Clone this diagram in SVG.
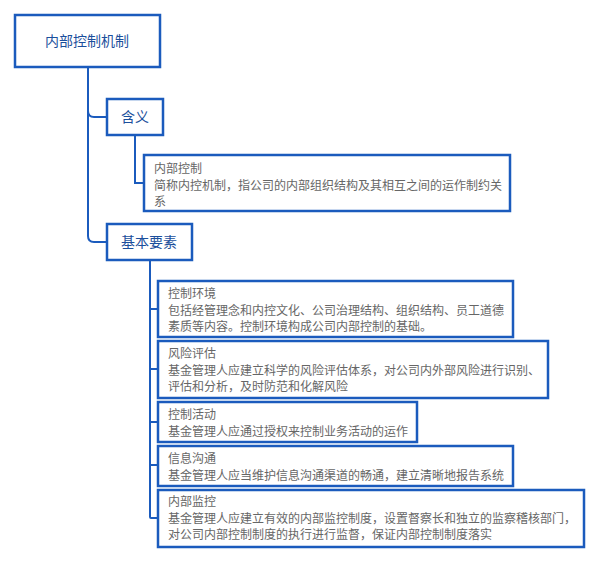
<svg xmlns="http://www.w3.org/2000/svg" width="600" height="562" viewBox="0 0 600 562">
<style>
.b{fill:#fff;stroke:#1b5bbd;stroke-width:2.5}
.c{fill:none;stroke:#1b5bbd;stroke-width:2}
.h{font-family:"Noto Sans CJK SC",sans-serif;fill:#1b4f9c}
.t{font-family:"Noto Sans CJK SC",sans-serif;font-size:12px;fill:#666}
</style>
<rect width="600" height="562" fill="#fff"/>
<g id="connectors">
<path class="c" d="M88 67V111Q88 117 94 117H107M88 111V236Q88 242 94 242H107"/>
<path class="c" d="M135 135V183H144"/>
<path class="c" d="M150 260V517Q150 518 151 518H158M150 309H158M150 369H158M150 422H158M150 465H158"/>
</g>
<g id="root"><rect class="b" x="15" y="15" width="145" height="52"/><text class="h" x="87" y="46" font-size="14" text-anchor="middle">内部控制机制</text></g>
<g id="hanyi"><rect class="b" x="107" y="99" width="56" height="36"/><text class="h" x="135" y="122" font-size="14" text-anchor="middle">含义</text></g>
<g id="def"><rect class="b" x="144" y="155" width="366" height="56"/><text class="t" x="154" y="173">内部控制<tspan x="154" dy="16.5">简称内控机制，指公司的内部组织结构及其相互之间的运作制约关</tspan><tspan x="154" dy="16.5">系</tspan></text></g>
<g id="jiben"><rect class="b" x="107" y="224" width="85" height="36"/><text class="h" x="149" y="247" font-size="14" text-anchor="middle">基本要素</text></g>
<g id="e1"><rect class="b" x="158" y="281" width="355" height="56"/><text class="t" x="168" y="298">控制环境<tspan x="168" dy="16.5">包括经管理念和内控文化、公司治理结构、组织结构、员工道德</tspan><tspan x="168" dy="16.5">素质等内容。控制环境构成公司内部控制的基础。</tspan></text></g>
<g id="e2"><rect class="b" x="158" y="341" width="390" height="57"/><text class="t" x="168" y="358">风险评估<tspan x="168" dy="16.5">基金管理人应建立科学的风险评估体系，对公司内外部风险进行识别、</tspan><tspan x="168" dy="16.5">评估和分析，及时防范和化解风险</tspan></text></g>
<g id="e3"><rect class="b" x="158" y="402" width="259" height="40"/><text class="t" x="168" y="419">控制活动<tspan x="168" dy="16.5">基金管理人应通过授权来控制业务活动的运作</tspan></text></g>
<g id="e4"><rect class="b" x="158" y="446" width="355" height="40"/><text class="t" x="168" y="463">信息沟通<tspan x="168" dy="16.5">基金管理人应当维护信息沟通渠道的畅通，建立清晰地报告系统</tspan></text></g>
<g id="e5"><rect class="b" x="158" y="490" width="426" height="57"/><text class="t" x="168" y="506">内部监控<tspan x="168" dy="16.5">基金管理人应建立有效的内部监控制度，设置督察长和独立的监察稽核部门，</tspan><tspan x="168" dy="16.5">对公司内部控制制度的执行进行监督，保证内部控制制度落实</tspan></text></g>
</svg>
